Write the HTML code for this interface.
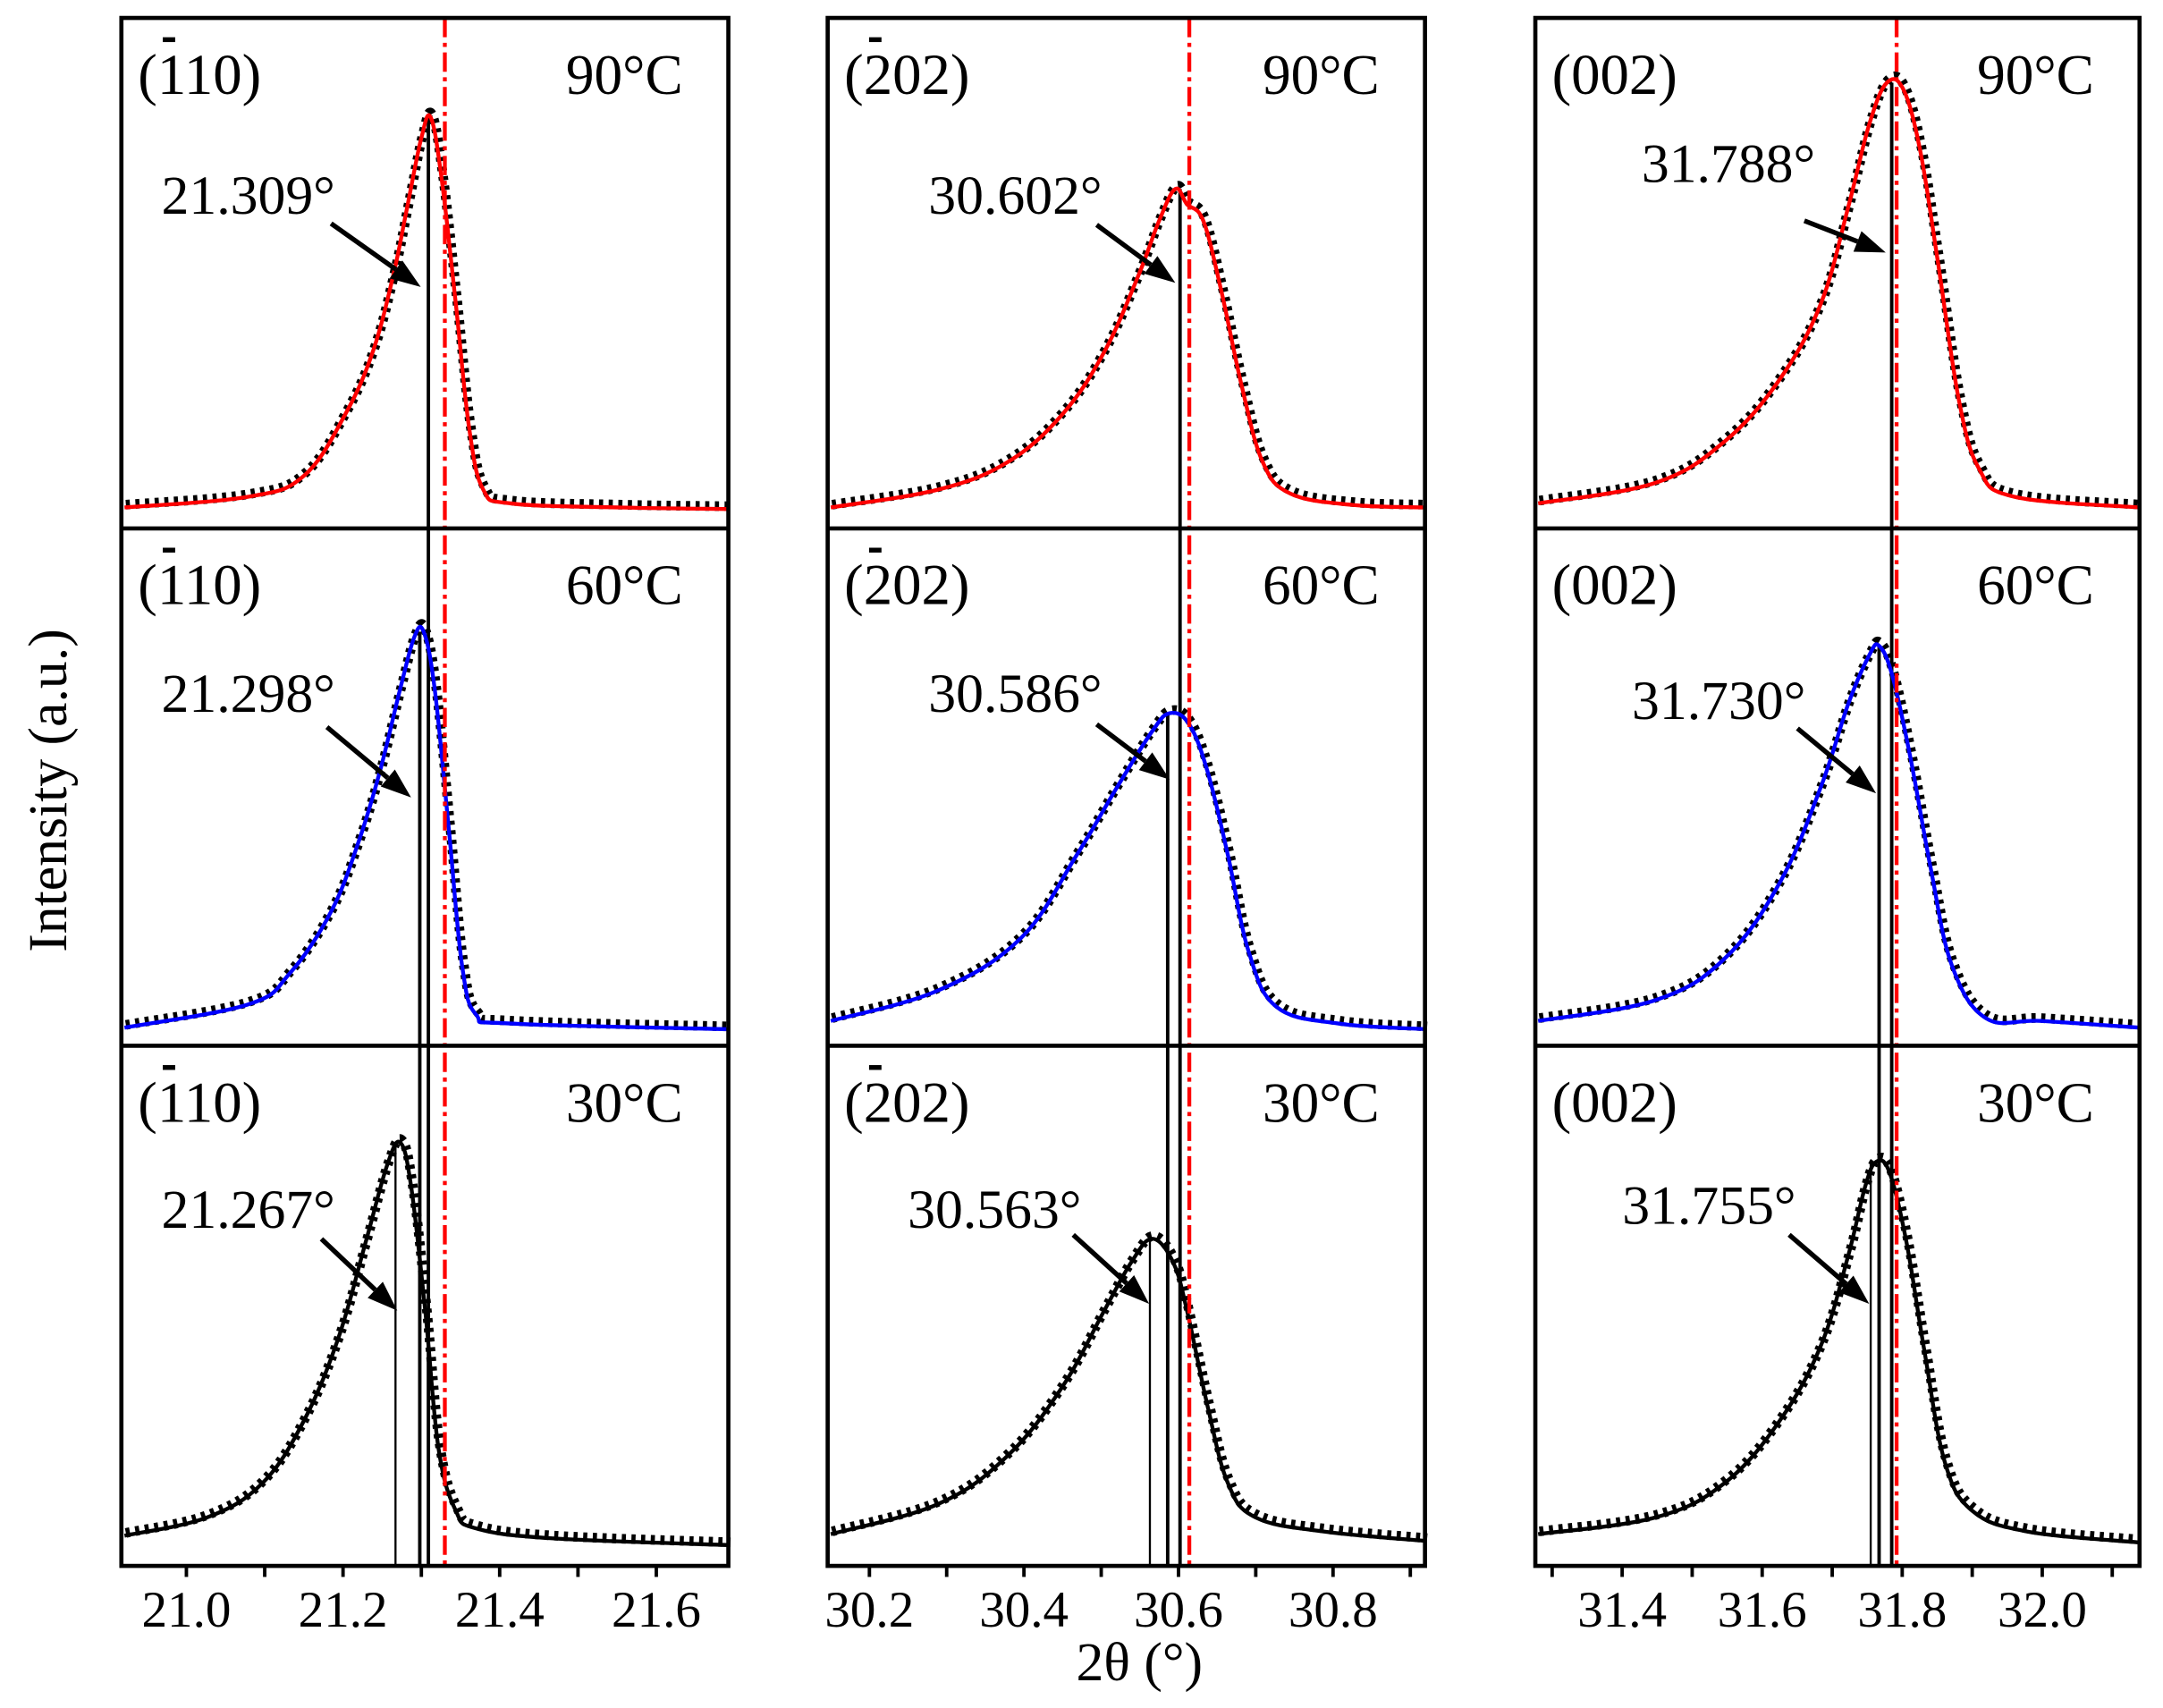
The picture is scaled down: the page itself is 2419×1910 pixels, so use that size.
<!DOCTYPE html>
<html><head><meta charset="utf-8"><style>
html,body{margin:0;padding:0;background:#fff}
svg{display:block}
text{font-family:"Liberation Serif",serif;fill:#000}
</style></head><body>
<svg id="chart" width="2419" height="1910" viewBox="0 0 1568 1238" preserveAspectRatio="none" xmlns="http://www.w3.org/2000/svg">
<text x="0" y="0" font-size="40" text-anchor="middle" transform="translate(48,573) rotate(-90)">Intensity (a.u.)</text>
<text x="826" y="1218" font-size="40" text-anchor="middle">2θ (°)</text>
</svg>
<script>
// column x-domains (2θ)
const colDomains = [[20.917, 21.692], [30.146, 30.919], [31.276, 32.139]];
const colTicks = [[21.0, 21.2, 21.4, 21.6], [30.2, 30.4, 30.6, 30.8], [31.4, 31.6, 31.8, 32.0]];
const colTickLabels = [["21.0","21.2","21.4","21.6"], ["30.2","30.4","30.6","30.8"], ["31.4","31.6","31.8","32.0"]];
const planeLabels = ["(110)", "(202)", "(002)"];
const tempLabels = ["90°C", "60°C", "30°C"];
const refLine = [21.33, 30.614, 31.792];
const peakLabels = [["21.309°","21.298°","21.267°"], ["30.602°","30.586°","30.563°"], ["31.788°","31.730°","31.755°"]];
const peakLinePos = [[21.309, 21.298, 21.267], [30.602, 30.586, 30.563], [31.785, 31.767, 31.755]];

// curves: [col][row] -> 2θ / intensity (0-100 of panel height)
const c1r1x = [20.921,21.079,21.150,21.203,21.238,21.264,21.282,21.300,21.312,21.326,21.344,21.361,21.379,21.414,21.555,21.693];
const c1r1y = [4.1,6.2,10.3,22.4,34.6,49.5,63,76.5,80.5,68.4,44,19.7,7.6,4.9,4.1,3.8];
const c1r2x = [20.921,21.079,21.132,21.185,21.220,21.247,21.273,21.291,21.303,21.317,21.335,21.352,21.370,21.414,21.693];
const c1r2y = [3.5,8,14,26,39.5,53,69,79,80,69,42,15.5,6,4.3,3.2];
const c1r3x = [20.921,21.026,21.097,21.150,21.194,21.229,21.256,21.273,21.287,21.305,21.322,21.344,21.370,21.467,21.693];
const c1r3y = [5.8,9.3,15.9,27.9,43.8,62.3,76.9,81.4,72.9,49,22.5,10.6,7.2,5.3,4];
const c2r1x = [30.150,30.289,30.379,30.450,30.504,30.548,30.575,30.596,30.611,30.632,30.655,30.682,30.709,30.745,30.825,30.920];
const c2r1y = [4.1,7.6,13,22.4,34.6,49.5,60.3,66.5,63.5,60.3,46.8,27.8,13,6.8,4.6,4.1];
const c2r2x = [30.150,30.289,30.396,30.468,30.521,30.566,30.589,30.614,30.638,30.664,30.691,30.727,30.807,30.920];
const c2r2y = [4.8,10.7,20.8,36.8,50.1,60.8,64.3,62.1,52.8,36.8,18.1,7.5,4.3,3.2];
const c2r3x = [30.150,30.289,30.379,30.450,30.504,30.539,30.566,30.593,30.611,30.638,30.664,30.700,30.789,30.920];
const c2r3y = [6.1,11.9,21.2,34.5,49.1,58.4,62.9,58.4,49.1,30.5,15.9,9.3,6.6,4.8];
const c3r1x = [31.280,31.447,31.546,31.625,31.684,31.723,31.753,31.778,31.802,31.826,31.851,31.881,31.910,31.960,32.139];
const c3r1y = [4.9,8.9,17,29.2,44.1,63,79.2,87.3,85.9,73.8,52.2,25.1,11.6,6.2,4.1];
const c3r2x = [31.280,31.447,31.546,31.625,31.684,31.723,31.753,31.767,31.786,31.812,31.841,31.871,31.920,31.999,32.139];
const c3r2y = [4.8,8.8,16.8,31.5,50.1,66.1,75.5,77.3,71.5,55.5,34.1,15.5,5.3,4.8,3.5];
const c3r3x = [31.280,31.447,31.546,31.625,31.684,31.723,31.747,31.763,31.782,31.806,31.832,31.861,31.900,31.979,32.139];
const c3r3y = [6.1,9.3,15.9,27.9,42.4,59.7,72.9,77.7,75.6,62.3,41.1,19.9,10.6,6.6,4.5];
const curvesX = [[c1r1x,c1r2x,c1r3x],[c2r1x,c2r2x,c2r3x],[c3r1x,c3r2x,c3r3x]];
const curvesY = [[c1r1y,c1r2y,c1r3y],[c2r1y,c2r2y,c2r3y],[c3r1y,c3r2y,c3r3y]];

const svg = document.getElementById('chart');
const NS = 'http://www.w3.org/2000/svg';
const colPx = [[88,528],[600,1033],[1113,1551]];
const rowPx = [[13,383],[383,758],[758,1135]];
const rowColors = ['#ff0000','#0000ff','#000000'];
const labelPos = [[[117,155],[117,516],[117,890]],[[673,155],[673,516],[658,890]],[[1190,132],[1183,521],[1176,887]]];
const arrows = [[[240,162,305,208],[237,527,298,578],[233,898,288,950]],[[795,163,852,205],[795,525,848,565],[778,895,833,945]],[[1308,160,1367,183],[1303,528,1360,575],[1297,895,1355,945]]];

function mk(tag, attrs, parent){const e=document.createElementNS(NS,tag);for(const k in attrs)e.setAttribute(k,attrs[k]);(parent||svg).appendChild(e);return e;}
function xs(c,v){const d=colDomains[c],p=colPx[c];return p[0]+(v-d[0])/(d[1]-d[0])*(p[1]-p[0]);}
function ys(r,v){const p=rowPx[r];return p[1]-v/100*(p[1]-p[0]);}
function smooth(pts){let d='M'+pts[0][0]+','+pts[0][1];for(let i=0;i<pts.length-1;i++){const p0=pts[i-1]||pts[i],p1=pts[i],p2=pts[i+1],p3=pts[i+2]||p2;const t=0.18;d+=' C'+(p1[0]+(p2[0]-p0[0])*t)+','+(p1[1]+(p2[1]-p0[1])*t)+' '+(p2[0]-(p3[0]-p1[0])*t)+','+(p2[1]-(p3[1]-p1[1])*t)+' '+p2[0]+','+p2[1];}return d;}

for(let c=0;c<3;c++){
  const g=mk('g',{});
  
  
  for(let r=0;r<3;r++){
    const xv=xs(c,peakLinePos[c][r]);
    const ymax=Math.max(...curvesY[c][r]);
    const ln=mk('line',{x1:xv,x2:xv,y1:ys(r,ymax),y2:1135,stroke:'#000','stroke-width':r===2?1.5:2.5},g);
    
    
  }
  for(let r=0;r<3;r++){
    const pts=curvesX[c][r].map((v,i)=>[xs(c,v),ys(r,curvesY[c][r][i])]);
    const d=smooth(pts);
    const sc=mk('path',{d:d,fill:'none',stroke:'#000','stroke-width':7,'stroke-dasharray':'3 4',transform:'translate(1,-2)'},g);
    
    
    const fl=mk('path',{d:d,fill:'none',stroke:rowColors[r],'stroke-width':2.8},g);
    
    
    const pl=mk('text',{x:colPx[c][0]+12,y:rowPx[r][0]+55,'font-size':42},g);
    pl.textContent=planeLabels[c];
    
    
    if(c<2){const bx=colPx[c][0]+30;mk('rect',{x:bx,y:rowPx[r][0]+14,width:9,height:3.5,fill:'#000'},g);}
    const tl=mk('text',{x:colPx[c][1]-33,y:rowPx[r][0]+55,'font-size':41,'text-anchor':'end'},g);
    tl.textContent=tempLabels[r];
    
    
    const lp=labelPos[c][r];
    const pk=mk('text',{x:lp[0],y:lp[1],'font-size':40},g);
    pk.textContent=peakLabels[c][r];
    
    
    const a=arrows[c][r];
    const ang=Math.atan2(a[3]-a[1],a[2]-a[0]);
    const L=22,W=8;
    const bx=a[2]-L*Math.cos(ang),by=a[3]-L*Math.sin(ang);
    const ar=mk('g',{},g);
    
    
    mk('line',{x1:a[0],y1:a[1],x2:bx,y2:by,stroke:'#000','stroke-width':3.5},ar);
    mk('polygon',{points:a[2]+','+a[3]+' '+(bx+W*Math.sin(ang))+','+(by-W*Math.cos(ang))+' '+(bx-W*Math.sin(ang))+','+(by+W*Math.cos(ang)),fill:'#000'},ar);
  }
  const rx=xs(c,refLine[c]);
  const rl=mk('line',{x1:rx,x2:rx,y1:13,y2:1135,stroke:'#ff0000','stroke-width':2.8,'stroke-dasharray':'14 4 3 4'},g);
  
  
  mk('rect',{x:colPx[c][0],y:13,width:colPx[c][1]-colPx[c][0],height:1122,fill:'none',stroke:'#000','stroke-width':3},g);
  mk('line',{x1:colPx[c][0],x2:colPx[c][1],y1:383,y2:383,stroke:'#000','stroke-width':3},g);
  mk('line',{x1:colPx[c][0],x2:colPx[c][1],y1:758,y2:758,stroke:'#000','stroke-width':3},g);
  const ticks=colTicks[c];
  const step=ticks[1]-ticks[0];
  for(let t=ticks[0]-step;t<=colDomains[c][1]+1e-9;t+=step/2){
    if(t<colDomains[c][0]-1e-9)continue;
    const tx=xs(c,t);
    mk('line',{x1:tx,x2:tx,y1:1135,y2:1143,stroke:'#000','stroke-width':2.5},g);
  }
  ticks.forEach((t,i)=>{
    const tx=xs(c,t);
    const tk=mk('text',{x:tx,y:1179,'font-size':37,'text-anchor':'middle'},g);
    tk.textContent=colTickLabels[c][i];
    
    
  });
}
</script>
</body></html>
